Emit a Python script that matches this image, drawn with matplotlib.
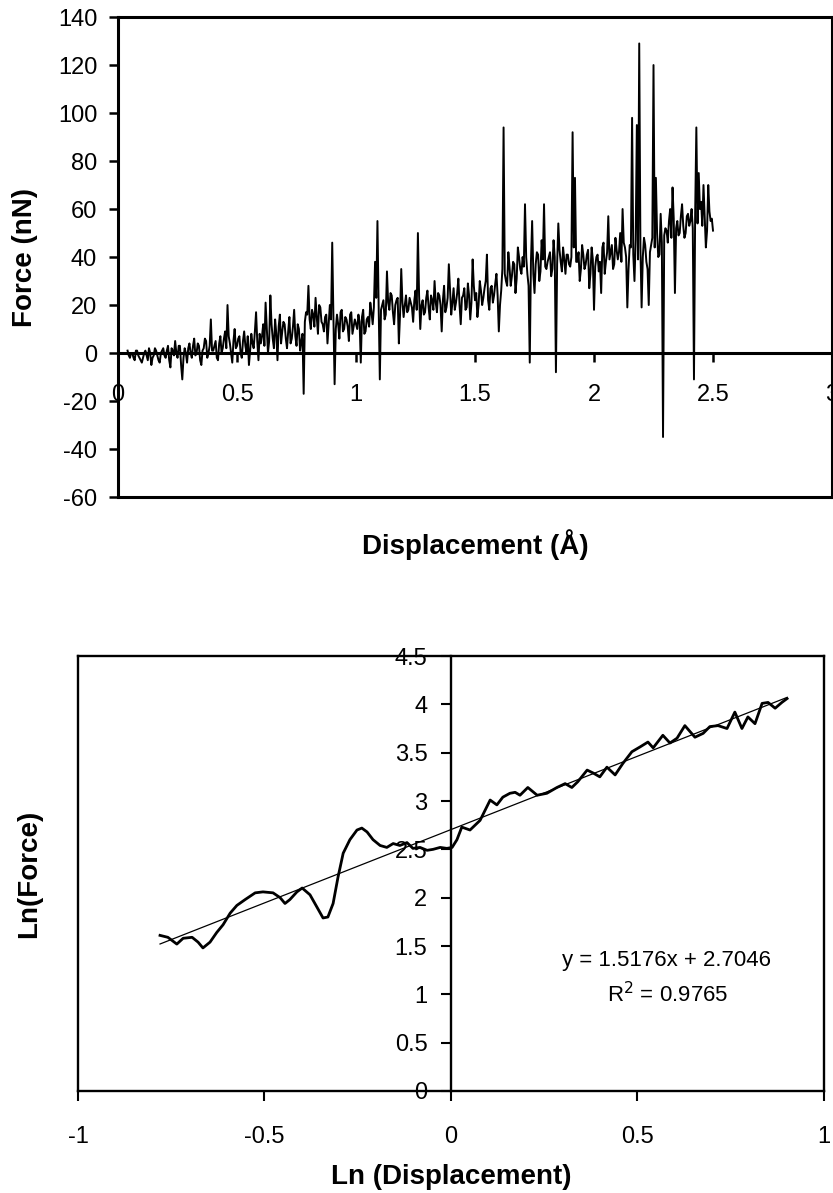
import numpy as np
import matplotlib
matplotlib.use('Agg')
import matplotlib.pyplot as plt

plt.rcParams['font.family'] = ['Liberation Sans', 'DejaVu Sans']
plt.rcParams['axes.unicode_minus'] = False

# top panel: force trace (Angstrom, nN)
displacement = [
    0.04, 0.05, 0.06, 0.07, 0.08, 0.09,
    0.10, 0.11, 0.12, 0.13, 0.14, 0.15, 0.16, 0.17, 0.18, 0.19,
    0.20, 0.21, 0.22, 0.23, 0.24, 0.25, 0.26, 0.27, 0.28, 0.29,
    0.30, 0.31, 0.32, 0.33, 0.34, 0.35, 0.36, 0.37, 0.38, 0.39,
    0.40, 0.41, 0.42, 0.43, 0.44, 0.45, 0.46, 0.47, 0.48, 0.49,
    0.50, 0.51, 0.52, 0.53, 0.54, 0.55, 0.56, 0.57, 0.58, 0.59,
    0.60, 0.61, 0.62, 0.63, 0.64, 0.65, 0.66, 0.67, 0.68, 0.69,
    0.70, 0.71, 0.72, 0.73, 0.74, 0.75, 0.76, 0.77, 0.78, 0.79,
    0.80, 0.81, 0.82, 0.83, 0.84, 0.85, 0.86, 0.87, 0.88, 0.89,
    0.90, 0.91, 0.92, 0.93, 0.94, 0.95, 0.96, 0.97, 0.98, 0.99,
    1.00, 1.01, 1.02, 1.03, 1.04, 1.05, 1.06, 1.07, 1.08, 1.09,
    1.10, 1.11, 1.12, 1.13, 1.14, 1.15, 1.16, 1.17, 1.18, 1.19,
    1.20, 1.21, 1.22, 1.23, 1.24, 1.25, 1.26, 1.27, 1.28, 1.29,
    1.30, 1.31, 1.32, 1.33, 1.34, 1.35, 1.36, 1.37, 1.38, 1.39,
    1.40, 1.41, 1.42, 1.43, 1.44, 1.45, 1.46, 1.47, 1.48, 1.49,
    1.50, 1.51, 1.52, 1.53, 1.54, 1.55, 1.56, 1.57, 1.58, 1.59,
    1.60, 1.61, 1.62, 1.63, 1.64, 1.65, 1.66, 1.67, 1.68, 1.69,
    1.70, 1.71, 1.72, 1.73, 1.74, 1.75, 1.76, 1.77, 1.78, 1.79,
    1.80, 1.81, 1.82, 1.83, 1.84, 1.85, 1.86, 1.87, 1.88, 1.89,
    1.90, 1.91, 1.92, 1.93, 1.94, 1.95, 1.96, 1.97, 1.98, 1.99,
    2.00, 2.01, 2.02, 2.03, 2.04, 2.05, 2.06, 2.07, 2.08, 2.09,
    2.10, 2.11, 2.12, 2.13, 2.14, 2.15, 2.16, 2.17, 2.18, 2.19,
    2.20, 2.21, 2.22, 2.23, 2.24, 2.25, 2.26, 2.27, 2.28, 2.29,
    2.30, 2.31, 2.32, 2.33, 2.34, 2.35, 2.36, 2.37, 2.38, 2.39,
    2.40, 2.41, 2.42, 2.43, 2.44, 2.45, 2.46, 2.47, 2.48, 2.49,
    2.50,
]
force = [
    1, -2, 0, -3, 1, -2,
    -4, 0, -1, 2, -5, -1, 1, -3, 0, 2,
    -2, 3, -6, 1, 5, -2, 3, -11, 2, -4,
    4, -2, 6, 0, 3, -5, 2, 5, 0, 14,
    1, 5, -3, 7, 2, 9, 20, 4, -4, 10,
    3, 7, -2, 9, 0, -5, 8, 2, 17, -3,
    4, 12, 21, 0, 24, 6, 14, -3, 16, 9,
    12, 2, 15, 6, 18, 3, 10, 5, -17, 17,
    28, 10, 16, 23, 8, 19, 12, 15, 4, 20,
    46, -13, 16, 6, 18, 10, 14, 5, 17, 11,
    12, 16, -4, 18, 9, 15, 21, 12, 38, 55,
    -11, 20, 14, 34, 18, 24, 12, 22, 4, 35,
    15, 24, 18, 21, 13, 26, 50, 10, 22, 17,
    26, 14, 22, 30, 17, 24, 9, 28, 19, 37,
    16, 27, 21, 31, 12, 24, 18, 29, 14, 39,
    22, 15, 30, 20, 27, 41, 18, 28, 24, 33,
    9, 26, 94, 30, 42, 28, 38, 25, 44, 35,
    40, 62, 33, -4, 55, 25, 42, 30, 47, 62,
    35, 40, 32, 47, -8, 54, 38, 44, 33, 41,
    36, 92, 73, 38, 30, 45, 35, 41, 27, 44,
    18, 40, 34, 25, 46, 38, 57, 42, 35, 48,
    39, 50, 60, 44, 19, 45, 98, 30, 95, 129,
    19, 48, 38, 20, 45, 120, 73, 40, 58, -35,
    52, 46, 60, 69, 25, 55, 50, 62, 48, 57,
    53, 60, -11, 94, 75, 63, 70, 44, 70, 55,
    51,
]
# in-between samples of the dense band
displacement_mid = [
    0.045, 0.055, 0.065, 0.075, 0.085, 0.095,
    0.105, 0.115, 0.125, 0.135, 0.145, 0.155, 0.165, 0.175, 0.185, 0.195,
    0.205, 0.215, 0.225, 0.235, 0.245, 0.255, 0.265, 0.275, 0.285, 0.295,
    0.305, 0.315, 0.325, 0.335, 0.345, 0.355, 0.365, 0.375, 0.385, 0.395,
    0.405, 0.415, 0.425, 0.435, 0.445, 0.455, 0.465, 0.475, 0.485, 0.495,
    0.505, 0.515, 0.525, 0.535, 0.545, 0.555, 0.565, 0.575, 0.585, 0.595,
    0.605, 0.615, 0.625, 0.635, 0.645, 0.655, 0.665, 0.675, 0.685, 0.695,
    0.705, 0.715, 0.725, 0.735, 0.745, 0.755, 0.765, 0.775, 0.785, 0.795,
    0.805, 0.815, 0.825, 0.835, 0.845, 0.855, 0.865, 0.875, 0.885, 0.895,
    0.905, 0.915, 0.925, 0.935, 0.945, 0.955, 0.965, 0.975, 0.985, 0.995,
    1.005, 1.015, 1.025, 1.035, 1.045, 1.055, 1.065, 1.075, 1.085, 1.095,
    1.105, 1.115, 1.125, 1.135, 1.145, 1.155, 1.165, 1.175, 1.185, 1.195,
    1.205, 1.215, 1.225, 1.235, 1.245, 1.255, 1.265, 1.275, 1.285, 1.295,
    1.305, 1.315, 1.325, 1.335, 1.345, 1.355, 1.365, 1.375, 1.385, 1.395,
    1.405, 1.415, 1.425, 1.435, 1.445, 1.455, 1.465, 1.475, 1.485, 1.495,
    1.505, 1.515, 1.525, 1.535, 1.545, 1.555, 1.565, 1.575, 1.585, 1.595,
    1.605, 1.615, 1.625, 1.635, 1.645, 1.655, 1.665, 1.675, 1.685, 1.695,
    1.705, 1.715, 1.725, 1.735, 1.745, 1.755, 1.765, 1.775, 1.785, 1.795,
    1.805, 1.815, 1.825, 1.835, 1.845, 1.855, 1.865, 1.875, 1.885, 1.895,
    1.905, 1.915, 1.925, 1.935, 1.945, 1.955, 1.965, 1.975, 1.985, 1.995,
    2.005, 2.015, 2.025, 2.035, 2.045, 2.055, 2.065, 2.075, 2.085, 2.095,
    2.105, 2.115, 2.125, 2.135, 2.145, 2.155, 2.165, 2.175, 2.185, 2.195,
    2.205, 2.215, 2.225, 2.235, 2.245, 2.255, 2.265, 2.275, 2.285, 2.295,
    2.305, 2.315, 2.325, 2.335, 2.345, 2.355, 2.365, 2.375, 2.385, 2.395,
    2.405, 2.415, 2.425, 2.435, 2.445, 2.455, 2.465, 2.475, 2.485, 2.495,
]
force_mid = [
    -1, 0, -2, 1, -1, -3,
    -2, 1, -3, 0, -2, 2, -1, -4, 1, -1,
    1, -3, 2, -1, 0, 3, -5, -2, 0, 2,
    0, 3, -1, 4, -3, 1, 6, -2, 3, 1,
    3, -2, 4, 0, 6, 2, 7, 0, 5, 2,
    6, 0, 5, 3, 7, 1, 4, 9, 5, 8,
    7, 3, 10, 5, 12, 2, 8, 11, 4, 13,
    6, 9, 4, 11, 7, 12, 1, 8, 13, 16,
    14, 18, 11, 15, 20, 13, 9, 16, 12, 14,
    15, 10, 12, 17, 9, 15, 11, 16, 8, 14,
    10, 13, 15, 8, 14, 11, 17, 19, 23, 20,
    18, 22, 16, 21, 25, 17, 20, 23, 16, 21,
    20, 17, 23, 19, 22, 18, 24, 20, 16, 23,
    19, 24, 18, 21, 25, 20, 22, 17, 23, 26,
    21, 18, 25, 20, 23, 27, 19, 24, 21, 28,
    25, 20, 26, 23, 30, 22, 27, 21, 29, 24,
    20, 35, 33, 28, 36, 32, 37, 31, 40, 33,
    36, 40, 28, 38, 33, 37, 41, 34, 39, 36,
    38, 42, 35, 40, 37, 43, 34, 39, 41, 37,
    40, 44, 38, 42, 35, 41, 37, 43, 33, 39,
    36, 41, 38, 44, 33, 42, 39, 45, 37, 43,
    42, 38, 46, 40, 35, 44, 41, 47, 39, 44,
    40, 45, 35, 42, 48, 44, 50, 41, 46, 49,
    51, 55, 48, 56, 52, 49, 57, 53, 50, 58,
    55, 52, 58, 54, 60, 53, 57, 51, 59, 56,
]
top_xticks = [0, 0.5, 1, 1.5, 2, 2.5, 3]
top_xlabels = ['0', '0.5', '1', '1.5', '2', '2.5', '3']
top_yticks = [-60, -40, -20, 0, 20, 40, 60, 80, 100, 120, 140]

# bottom panel: log-log curve and Excel trendline
ln_disp = [
    -0.78, -0.759, -0.735, -0.718, -0.694, -0.678, -0.665, -0.646, -0.628, -0.611,
    -0.592, -0.574, -0.552, -0.525, -0.504, -0.477, -0.458, -0.445, -0.432, -0.413,
    -0.399, -0.378, -0.359, -0.343, -0.330, -0.316, -0.303, -0.289, -0.271, -0.252,
    -0.239, -0.225, -0.209, -0.190, -0.172, -0.155, -0.137, -0.118, -0.102, -0.083,
    -0.064, -0.048, -0.029, -0.011, 0.003, 0.016, 0.029, 0.051, 0.078, 0.105,
    0.123, 0.139, 0.158, 0.172, 0.185, 0.206, 0.231, 0.257, 0.284, 0.306,
    0.324, 0.340, 0.365, 0.381, 0.399, 0.418, 0.440, 0.461, 0.485, 0.507,
    0.528, 0.542, 0.568, 0.587, 0.606, 0.627, 0.654, 0.676, 0.694, 0.716,
    0.740, 0.761, 0.780, 0.796, 0.815, 0.834, 0.850, 0.869, 0.887, 0.901,
]
ln_force = [
    1.61, 1.59, 1.52, 1.58, 1.59, 1.54, 1.48, 1.54, 1.64, 1.72,
    1.84, 1.92, 1.98, 2.05, 2.06, 2.05, 2.00, 1.94, 1.98, 2.06,
    2.10, 2.03, 1.90, 1.79, 1.80, 1.94, 2.21, 2.46, 2.60, 2.70,
    2.72, 2.68, 2.60, 2.54, 2.52, 2.56, 2.54, 2.57, 2.51, 2.52,
    2.49, 2.50, 2.52, 2.51, 2.52, 2.60, 2.73, 2.70, 2.80, 3.01,
    2.96, 3.04, 3.08, 3.09, 3.06, 3.14, 3.06, 3.08, 3.14, 3.18,
    3.14, 3.20, 3.32, 3.29, 3.25, 3.35, 3.27, 3.39, 3.51, 3.56,
    3.61, 3.55, 3.68, 3.60, 3.65, 3.78, 3.66, 3.70, 3.77, 3.78,
    3.75, 3.92, 3.75, 3.87, 3.80, 4.01, 4.02, 3.96, 4.02, 4.06,
]
fit_slope = 1.5176
fit_intercept = 2.7046
fit_r2 = 0.9765
bot_xticks = [-1, -0.5, 0, 0.5, 1]
bot_xlabels = ['-1', '-0.5', '0', '0.5', '1']
bot_yticks = [0, 0.5, 1, 1.5, 2, 2.5, 3, 3.5, 4, 4.5]
bot_ylabels = ['0', '0.5', '1', '1.5', '2', '2.5', '3', '3.5', '4', '4.5']

fig = plt.figure(figsize=(8.33, 11.93), dpi=100)

# ---- top chart ----
ax1 = fig.add_axes([0.1417, 0.5834, 0.8571, 0.4023])
trace_x = np.array(displacement + displacement_mid)
trace_y = np.array(force + force_mid)
order = np.argsort(trace_x)
ax1.plot(trace_x[order], trace_y[order], color='black', lw=1.4)
ax1.set_xlim(0, 3)
ax1.set_ylim(-60, 140)
for s in ax1.spines.values():
    s.set_linewidth(2.2)
ax1.spines['bottom'].set_position(('data', 0))
ax1.plot([0, 1], [0, 0], transform=ax1.transAxes, color='black', lw=2.2,
         clip_on=False, solid_capstyle='projecting')
ax1.set_xticks(top_xticks)
ax1.set_xticklabels(top_xlabels)
ax1.set_yticks(top_yticks)
ax1.tick_params(axis='y', direction='out', length=6.5, width=1.8, pad=8.5, labelsize=17)
ax1.tick_params(axis='x', direction='out', length=6.5, width=1.8, pad=16, labelsize=17)
ax1.set_xlabel('Displacement (Å)', fontsize=20, fontweight='bold')
ax1.set_ylabel('Force (nN)', fontsize=20, fontweight='bold')
ax1.xaxis.set_label_coords(0.5, -0.10)
ax1.xaxis.label.set_va('center')
ax1.yaxis.set_label_coords(-0.130, 0.5)
ax1.yaxis.label.set_va('center')

# ---- bottom chart ----
ax2 = fig.add_axes([0.0936, 0.0855, 0.8956, 0.3646])
ax2.plot(ln_disp, ln_force, color='black', lw=2.0)
fit_x = np.array([min(ln_disp), max(ln_disp)])
ax2.plot(fit_x, fit_slope * fit_x + fit_intercept, color='black', lw=0.9)
ax2.set_xlim(-1, 1)
ax2.set_ylim(0, 4.5)
for s in ax2.spines.values():
    s.set_linewidth(1.7)
ax2.spines['left'].set_position(('data', 0))
ax2.plot([0, 0], [0, 1], transform=ax2.transAxes, color='black', lw=1.7,
         clip_on=False, solid_capstyle='projecting')
ax2.set_xticks(bot_xticks)
ax2.set_xticklabels(bot_xlabels)
ax2.set_yticks(bot_yticks)
ax2.set_yticklabels(bot_ylabels)
ax2.tick_params(axis='y', direction='out', length=7, width=1.5, pad=10, labelsize=17)
ax2.tick_params(axis='x', direction='out', length=7, width=1.5, pad=18, labelsize=17)
ax2.set_xlabel('Ln (Displacement)', fontsize=20, fontweight='bold')
ax2.set_ylabel('Ln(Force)', fontsize=20, fontweight='bold')
ax2.xaxis.set_label_coords(0.5, -0.198)
ax2.xaxis.label.set_va('center')
ax2.yaxis.set_label_coords(-0.066, 0.5)
ax2.yaxis.label.set_va('center')
ax2.text(0.577, 1.355, f'y = {fit_slope}x + {fit_intercept}', fontsize=16,
         ha='center', va='center')
ax2.text(0.58, 1.0, f'R$^2$ = {fit_r2}', fontsize=16, ha='center', va='center')

fig.savefig('out.png', dpi=100)
